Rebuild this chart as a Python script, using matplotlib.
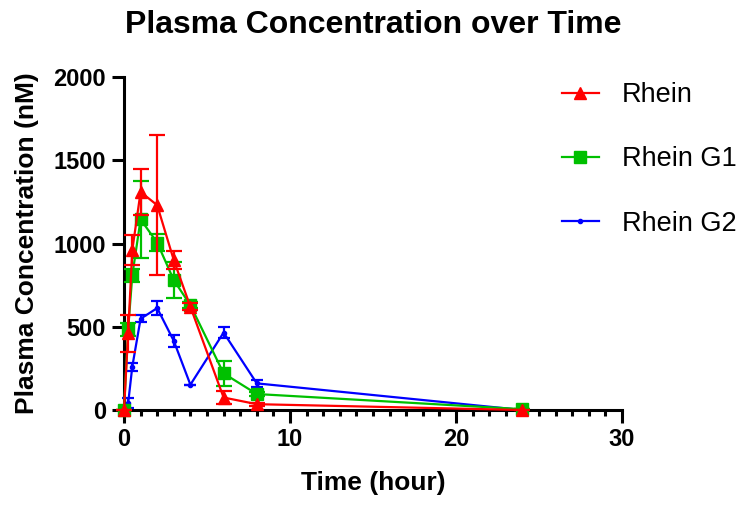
import matplotlib
matplotlib.use("Agg")
import matplotlib.pyplot as plt
from matplotlib.ticker import MultipleLocator
from matplotlib.lines import Line2D

plt.rcParams["font.family"] = ["Liberation Sans", "DejaVu Sans"]

# sampling times (hour)
time = [0, 0.25, 0.5, 1, 2, 3, 4, 6, 8, 24]

# mean plasma concentration (nM) and error
rhein = [0, 460, 960, 1310, 1230, 900, 620, 75, 35, 0]
rhein_err = [0, 110, 90, 140, 420, 55, 20, 40, 10, 0]

rhein_g1 = [0, 484, 808, 1145, 1005, 780, 630, 220, 96, 5]
rhein_g1_err = [0, 40, 40, 230, 50, 110, 20, 73, 10, 0]

rhein_g2 = [0, 40, 260, 548, 612, 415, 152, 465, 160, 0]
rhein_g2_err = [0, 30, 25, 20, 40, 35, 0, 35, 20, 0]

series_names = ["Rhein", "Rhein G1", "Rhein G2"]
colors = ["#FF0000", "#00C000", "#0000FF"]
markers = ["^", "s", "o"]
msizes = [9, 8, 3]

fig = plt.figure(figsize=(7.46, 5.08), dpi=100)
ax = fig.add_axes([0.1662, 0.1929, 0.6676, 0.6555])

ax.errorbar(time, rhein_g2, yerr=rhein_g2_err, color=colors[2], marker=markers[2],
            markersize=msizes[2], lw=1.6, capsize=4, elinewidth=1.6, capthick=1.6,
            clip_on=False, zorder=3)
ax.errorbar(time, rhein_g1, yerr=rhein_g1_err, color=colors[1], marker=markers[1],
            markersize=msizes[1], lw=1.6, capsize=6, elinewidth=1.6, capthick=1.6,
            clip_on=False, zorder=4)
ax.errorbar(time, rhein, yerr=rhein_err, color=colors[0], marker=markers[0],
            markersize=msizes[0], lw=1.6, capsize=6, elinewidth=1.6, capthick=1.6,
            clip_on=False, zorder=5)

ax.set_xlim(0, 30)
ax.set_ylim(0, 2000)
ax.xaxis.set_major_locator(MultipleLocator(10))
ax.xaxis.set_minor_locator(MultipleLocator(1))
ax.yaxis.set_major_locator(MultipleLocator(500))

for s in ["top", "right"]:
    ax.spines[s].set_visible(False)
for s in ["left", "bottom"]:
    ax.spines[s].set_linewidth(2.2)

ax.tick_params(which="major", length=9, width=2.2, labelsize=17, pad=4)
ax.tick_params(which="minor", length=4.5, width=2.2)
for lbl in ax.get_xticklabels() + ax.get_yticklabels():
    lbl.set_fontweight("bold")

ax.set_xlabel("Time (hour)", fontsize=19, fontweight="bold", labelpad=14)
ax.set_ylabel("Plasma Concentration (nM)", fontsize=19, fontweight="bold", labelpad=10)
fig.text(0.5, 1 - 33 / 508, "Plasma Concentration over Time", ha="center",
         va="baseline", fontsize=23, fontweight="bold")

# legend: line + marker only, no error bars
handles = [Line2D([], [], color=c, marker=m, markersize=ms, lw=1.6)
           for c, m, ms in zip(colors, markers, msizes)]
fig.legend(handles, series_names,
           loc="upper left", bbox_to_anchor=(562 / 746, 1 - 82 / 508),
           frameon=False, fontsize=19.5, handlelength=1.35,
           handletextpad=0.85, labelspacing=1.42, borderaxespad=0,
           borderpad=0)

fig.savefig("out.png", dpi=100)
